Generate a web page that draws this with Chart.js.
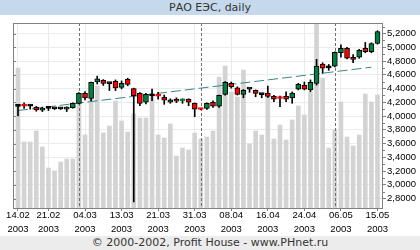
<!DOCTYPE html>
<html>
<head>
<meta charset="utf-8">
<script src="https://cdn.jsdelivr.net/npm/chart.js@4.4.0/dist/chart.umd.min.js"></script>
<style>
  html, body { margin: 0; padding: 0; background: #fff; }
  #wrap { position: relative; width: 420px; height: 250px; overflow: hidden; }
  #chart { position: absolute; left: 0; top: 0; }
  .band { position: absolute; left: 0; width: 420px; text-align: center; font: 11px "DejaVu Sans", sans-serif; color: #333; }
  #title { top: 0; height: 15px; line-height: 15px; background: #c6d9ec; }
  #footer { top: 236px; height: 14px; line-height: 14px; background: #ececec; }
</style>
</head>
<body>
<div id="wrap">
  <canvas id="chart" width="420" height="250"></canvas>
  <div id="title" class="band">РАО ЕЭС, daily</div>
  <div id="footer" class="band">© 2000-2002, Profit House - www.PHnet.ru</div>
</div>
<script>
// trading days, 14.02.2003 - 15.05.2003
const dates = [
  '14.02','17.02','18.02','19.02','20.02','21.02','25.02','26.02','27.02','28.02',
  '03.03','04.03','05.03','06.03','07.03','11.03','12.03','13.03','14.03','17.03',
  '18.03','19.03','20.03','21.03','24.03','25.03','26.03','27.03','28.03','31.03',
  '01.04','02.04','03.04','04.04','07.04','08.04','09.04','10.04','11.04','14.04',
  '15.04','16.04','17.04','18.04','21.04','22.04','23.04','24.04','25.04','28.04',
  '29.04','30.04','05.05','06.05','07.05','08.05','12.05','13.05','14.05','15.05'
];
const year = '2003';

const opens = [
  4.14, 4.155, 4.145, 4.13, 4.085, 4.11, 4.105, 4.105, 4.10, 4.12,
  4.185, 4.33, 4.255, 4.495, 4.52, 4.47, 4.505, 4.415, 4.535, 4.40,
  4.33, 4.20, 4.295, 4.30, 4.27, 4.20, 4.245, 4.22, 4.245, 4.185,
  4.10, 4.11, 4.20, 4.145, 4.315, 4.475, 4.41, 4.315, 4.39, 4.375,
  4.31, 4.335, 4.285, 4.26, 4.285, 4.265, 4.39, 4.445, 4.38, 4.475,
  4.755, 4.70, 4.725, 4.92, 4.985, 4.855, 4.855, 4.985, 4.935, 5.055
];
const highs = [
  4.16, 4.19, 4.16, 4.14, 4.13, 4.12, 4.115, 4.115, 4.135, 4.19,
  4.34, 4.355, 4.495, 4.58, 4.53, 4.475, 4.525, 4.51, 4.55, 4.405,
  4.34, 4.33, 4.39, 4.345, 4.305, 4.25, 4.265, 4.25, 4.25, 4.19,
  4.105, 4.19, 4.22, 4.305, 4.50, 4.495, 4.425, 4.385, 4.395, 4.38,
  4.325, 4.435, 4.30, 4.29, 4.35, 4.35, 4.475, 4.495, 4.525, 4.825,
  4.775, 4.75, 4.935, 5.035, 5.00, 4.895, 4.97, 5.07, 5.065, 5.24
];
const lows = [
  4.00, 4.11, 4.10, 4.07, 4.065, 4.08, 4.095, 4.095, 4.065, 4.115,
  4.175, 4.235, 4.225, 4.465, 4.445, 4.37, 4.37, 4.395, 4.44, 2.75,
  4.15, 4.175, 4.225, 4.245, 4.17, 4.185, 4.195, 4.185, 4.15, 3.99,
  4.09, 4.095, 4.125, 4.125, 4.305, 4.405, 4.305, 4.265, 4.345, 4.28,
  4.265, 4.27, 4.21, 4.135, 4.21, 4.185, 4.38, 4.38, 4.355, 4.45,
  4.62, 4.665, 4.715, 4.855, 4.83, 4.775, 4.84, 4.92, 4.92, 5.045
];
const closes = [
  4.14, 4.145, 4.145, 4.09, 4.115, 4.11, 4.105, 4.105, 4.125, 4.185,
  4.33, 4.265, 4.49, 4.54, 4.475, 4.47, 4.41, 4.475, 4.46, 4.295,
  4.185, 4.315, 4.295, 4.29, 4.23, 4.235, 4.215, 4.23, 4.20, 4.10,
  4.095, 4.185, 4.145, 4.30, 4.49, 4.425, 4.315, 4.375, 4.39, 4.33,
  4.31, 4.285, 4.245, 4.255, 4.245, 4.335, 4.46, 4.39, 4.49, 4.725,
  4.695, 4.70, 4.925, 4.985, 4.84, 4.825, 4.955, 4.935, 5.055, 5.23
];
// volume, relative units (axis top = 185)
const volumes = [
  140, 66, 66, 77, 61, 40, 37, 46, 49, 49,
  105, 73, 110, 122, 75, 82, 107, 87, 76, 94,
  90, 90, 112, 73, 70, 84, 52, 60, 58, 75,
  69, 71, 77, 131, 142, 116, 111, 138, 64, 77,
  73, 112, 69, 83, 68, 88, 102, 93, 116, 200,
  130, 60, 78, 106, 71, 62, 73, 114, 106, 113
];
const trendX = [0, 58];
const trendY = [4.08, 4.71];

const xTickDates = ['14.02','21.02','04.03','13.03','21.03','31.03','08.04','16.04','24.04','06.05','15.05'];
const yTicks = [2.8, 3.0, 3.2, 3.4, 3.6, 3.8, 4.0, 4.2, 4.4, 4.6, 4.8, 5.0, 5.2];

const GREEN = '#008040';
const RED = '#ff0000';
const GRID = '#ebebeb';
const FRAME = '#808080';
const xFont = { family: 'Liberation Sans', size: 9.5, lineHeight: '14px' };
const yFont = { family: 'Liberation Sans', size: 9.5, lineHeight: '11px' };

// first trading day of each new month gets a dashed separator
const monthStarts = dates.map((d, i) => i).filter(i => i > 0 && dates[i].slice(3) !== dates[i - 1].slice(3));

function bodyColor(i) {
    if (closes[i] > opens[i]) return GREEN;
    if (closes[i] < opens[i]) return RED;
    return '#000';
}

function bodyBorder(i) {
    const diff = Math.abs(closes[i] - opens[i]);
    // very thin bodies show only as a coloured dash
    if (diff > 0 && diff < 0.015) return bodyColor(i);
    return '#000';
}

const framePlugin = {
    id: 'frame',
    afterDatasetDraw(chart, args) {
        if (args.index !== 0) return; // right after the volume bars
        const { ctx, chartArea: a, scales: { x } } = chart;
        ctx.save();
        ctx.strokeStyle = '#707070';
        ctx.lineWidth = 1;
        ctx.setLineDash([3, 2]);
        monthStarts.forEach(i => {
            const px = Math.round(x.getPixelForValue(i)) + 0.5;
            ctx.beginPath();
            ctx.moveTo(px, a.top);
            ctx.lineTo(px, a.bottom);
            ctx.stroke();
        });
        ctx.restore();
    },
    afterDraw(chart) {
        const { ctx, chartArea: a, scales: { y } } = chart;
        ctx.save();
        ctx.strokeStyle = FRAME;
        ctx.lineWidth = 1;
        ctx.strokeRect(a.left + 0.5, a.top + 0.5, a.right - a.left, a.bottom - a.top);
        ctx.beginPath();
        yTicks.forEach(v => {
            const py = Math.round(y.getPixelForValue(v)) + 0.5;
            ctx.moveTo(a.left, py);
            ctx.lineTo(a.left + 3, py);
            const pm = Math.round(y.getPixelForValue(v + 0.1)) + 0.5;
            if (v + 0.1 < y.max) {
                ctx.moveTo(a.right, pm);
                ctx.lineTo(a.right + 3, pm);
            }
        });
        ctx.stroke();
        ctx.restore();
    }
};

new Chart(document.getElementById('chart'), {
    type: 'bar',
    data: {
        datasets: [
            {
                label: 'Volume',
                data: volumes.map((v, i) => ({ x: i, y: v })),
                yAxisID: 'yv',
                backgroundColor: '#d3d3d3',
                barThickness: 4,
                grouped: false,
                order: 3
            },
            {
                type: 'line',
                label: 'Trend',
                data: trendX.map((x, i) => ({ x: x, y: trendY[i] })),
                yAxisID: 'y',
                borderColor: '#3b8585',
                borderWidth: 1,
                borderDash: [10, 4],
                pointRadius: 0,
                fill: false,
                order: 2
            },
            {
                label: 'High-Low',
                data: highs.map((h, i) => ({ x: i, y: [lows[i], h] })),
                yAxisID: 'y',
                backgroundColor: '#000',
                barThickness: 1,
                grouped: false,
                order: 1
            },
            {
                label: 'Open-Close',
                data: opens.map((o, i) => ({ x: i, y: [o, closes[i]] })),
                yAxisID: 'y',
                backgroundColor: ctx => bodyColor(ctx.dataIndex),
                borderColor: ctx => bodyBorder(ctx.dataIndex),
                borderWidth: 1,
                borderSkipped: false,
                minBarLength: 2,
                barThickness: 5,
                grouped: false,
                order: 0
            }
        ]
    },
    options: {
        responsive: false,
        animation: false,
        devicePixelRatio: 1,
        events: [],
        layout: { padding: { top: 23, left: 13, right: 0, bottom: 0 } },
        plugins: {
            legend: { display: false },
            tooltip: { enabled: false }
        },
        scales: {
            x: {
                type: 'linear',
                min: -0.82,
                max: 59.74,
                offset: false,
                afterBuildTicks: s => { s.ticks = xTickDates.map(d => ({ value: dates.indexOf(d) })); },
                afterFit: s => { s.height = 42; },
                ticks: {
                    autoSkip: false,
                    maxRotation: 0,
                    padding: -3,
                    color: '#000',
                    font: xFont,
                    callback: v => [dates[v], year]
                },
                grid: { color: GRID, tickColor: FRAME, tickLength: 3, offset: false },
                border: { display: false }
            },
            y: {
                position: 'right',
                min: 2.662,
                max: 5.353,
                afterBuildTicks: s => { s.ticks = yTicks.map(v => ({ value: v })); },
                afterFit: s => { s.width = 38; },
                ticks: {
                    autoSkip: false,
                    padding: 1,
                    color: '#000',
                    font: yFont,
                    callback: v => v.toFixed(4).replace('.', ',')
                },
                grid: { color: GRID, tickColor: FRAME, tickLength: 4 },
                border: { display: false }
            },
            yv: {
                display: false,
                min: 0,
                max: 185
            }
        }
    },
    plugins: [framePlugin]
});
</script>
</body>
</html>
